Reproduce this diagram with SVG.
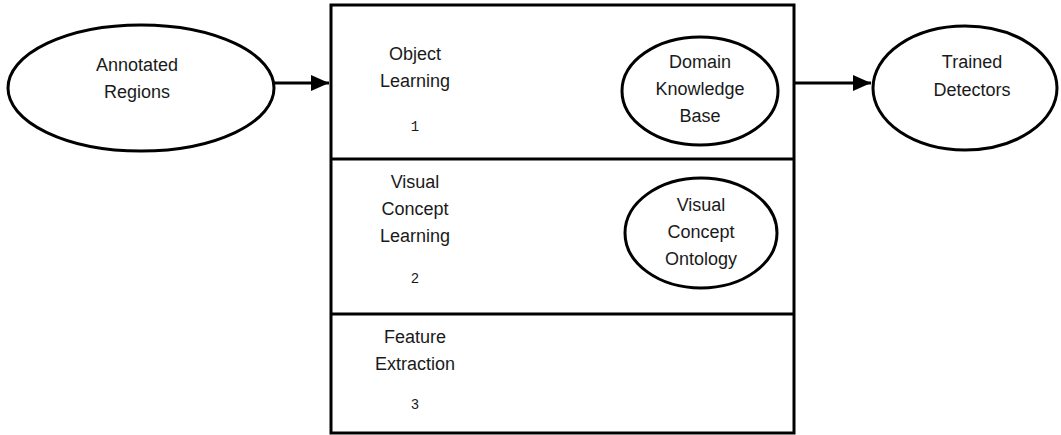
<svg xmlns="http://www.w3.org/2000/svg" width="1061" height="435" viewBox="0 0 1061 435">
<style>
.sh{fill:#fff;stroke:#000;stroke-width:3}
.t{font-family:"Liberation Sans",Arial,sans-serif;font-size:18px;text-anchor:middle;fill:#1a1a1a}
.n{font-family:"Liberation Mono","Courier New",monospace;font-size:14px;text-anchor:middle;fill:#1a1a1a}
.c{stroke:#000;stroke-width:3;fill:none}
</style>
<defs>
<marker id="ah" markerWidth="18" markerHeight="16" refX="18" refY="8" orient="auto" markerUnits="userSpaceOnUse" viewBox="0 0 18 16">
<path d="M0,0 L18,8 L0,16 z" fill="#000"/>
</marker>
</defs>
<rect width="1061" height="435" fill="#fff"/>
<g id="system">
<rect class="sh" x="331" y="5" width="463" height="428"/>
<line x1="331" y1="159" x2="794" y2="159" stroke="#000" stroke-width="3"/>
<line x1="331" y1="314" x2="794" y2="314" stroke="#000" stroke-width="3"/>
</g>
<g id="object-learning">
<text class="t" x="415" y="60">Object</text>
<text class="t" x="415" y="87">Learning</text>
<text class="n" x="415" y="131">1</text>
</g>
<g id="visual-concept-learning">
<text class="t" x="415" y="188">Visual</text>
<text class="t" x="415" y="215">Concept</text>
<text class="t" x="415" y="242">Learning</text>
<text class="n" x="415" y="283">2</text>
</g>
<g id="feature-extraction">
<text class="t" x="415" y="343">Feature</text>
<text class="t" x="415" y="370">Extraction</text>
<text class="n" x="415" y="409">3</text>
</g>
<g id="domain-knowledge-base">
<ellipse class="sh" cx="700" cy="91" rx="78" ry="54"/>
<text class="t" x="700" y="68">Domain</text>
<text class="t" x="700" y="95">Knowledge</text>
<text class="t" x="700" y="122">Base</text>
</g>
<g id="visual-concept-ontology">
<ellipse class="sh" cx="701" cy="233" rx="76" ry="55"/>
<text class="t" x="701" y="211">Visual</text>
<text class="t" x="701" y="238">Concept</text>
<text class="t" x="701" y="265">Ontology</text>
</g>
<g id="annotated-regions">
<ellipse class="sh" cx="141" cy="88" rx="133" ry="63"/>
<text class="t" x="137" y="71">Annotated</text>
<text class="t" x="137" y="98">Regions</text>
</g>
<g id="trained-detectors">
<ellipse class="sh" cx="965" cy="88" rx="92" ry="62"/>
<text class="t" x="972" y="68">Trained</text>
<text class="t" x="972" y="96">Detectors</text>
</g>
<g id="connectors">
<line class="c" x1="274" y1="83" x2="329" y2="83" marker-end="url(#ah)"/>
<line class="c" x1="795" y1="83" x2="871" y2="83" marker-end="url(#ah)"/>
</g>
</svg>
